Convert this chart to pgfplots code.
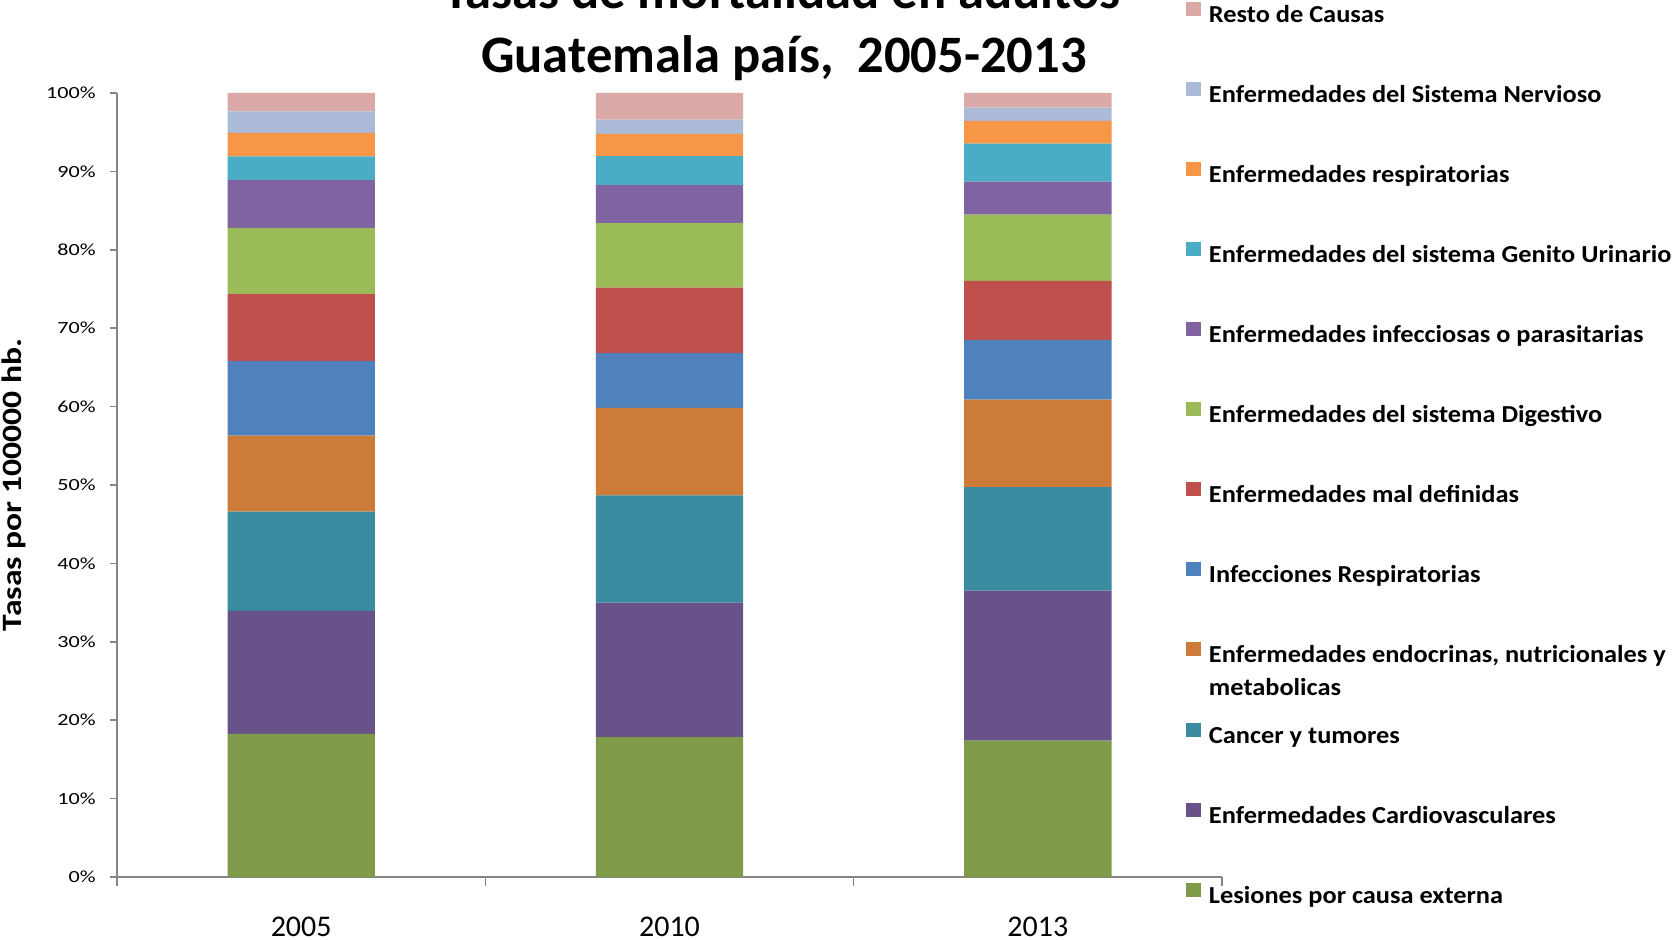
\documentclass[border=0pt]{standalone}
\usepackage{fontspec}
\setmainfont{Carlito}
\newfontfamily\legfont[FakeStretch=1.08]{Carlito}
\newfontfamily\tickfont[FakeStretch=1.3]{Carlito}
\newfontfamily\ylabfont[FakeStretch=1.2]{Carlito}
\usepackage{pgfplots}
\usepackage{pgfplotstable}
\pgfplotsset{compat=1.18}
\definecolor{cLes}{HTML}{7F9A48}
\definecolor{cCar}{HTML}{69518A}
\definecolor{cCan}{HTML}{3B8BA1}
\definecolor{cEnd}{HTML}{CC7B38}
\definecolor{cIre}{HTML}{4F81BD}
\definecolor{cMal}{HTML}{C0504D}
\definecolor{cDig}{HTML}{9BBB59}
\definecolor{cInf}{HTML}{8064A2}
\definecolor{cGen}{HTML}{4BACC6}
\definecolor{cRes}{HTML}{F79646}
\definecolor{cNer}{HTML}{AABAD7}
\definecolor{cRst}{HTML}{DBA9A8}
\definecolor{axgray}{HTML}{868686}
\pgfplotstableread{
x les car can end ire mal dig inf gen res ner rst
0 18.26 15.69 12.65 9.70 9.50 8.56 8.44 6.08 3.05 2.97 2.76 2.34
1 17.83 17.16 13.68 11.16 6.98 8.38 8.21 4.86 3.70 2.81 1.83 3.40
2 17.41 19.11 13.22 11.15 7.62 7.53 8.43 4.21 4.85 2.90 1.70 1.87
}\data
\begin{document}
\begin{tikzpicture}
\useasboundingbox (0,0) rectangle (836.5bp,470bp);
\begin{axis}[
  at={(58.5bp,31.5bp)}, anchor=south west,
  scale only axis, width=552.5bp, height=392bp,
  ybar stacked, bar width=0.4,
  xmin=-0.5, xmax=2.5, ymin=0, ymax=100,
  axis x line=bottom, axis y line=left,
  axis line style={-, draw=axgray, line width=0.8bp},
  xtick={0,1,2}, xticklabels={2005,2010,2013},
  minor xtick={-0.5,0.5,1.5,2.5},
  major x tick style={draw=none},
  minor x tick style={draw=axgray, line width=0.8bp},
  minor tick length=4.5bp,
  ytick={0,10,20,30,40,50,60,70,80,90,100},
  yticklabels={0\%,10\%,20\%,30\%,40\%,50\%,60\%,70\%,80\%,90\%,100\%},
  major y tick style={draw=axgray, line width=0.8bp},
  major tick length=3.5bp,
  tick align=outside,
  xticklabel style={font=\fontsize{15bp}{18bp}\selectfont, anchor=base, inner sep=0pt, text depth=0pt, yshift=-26bp},
  yticklabel style={font=\tickfont\fontsize{8.5bp}{10bp}\selectfont, anchor=east, inner sep=0pt, xshift=-7bp},
  ylabel={Tasas por 100000 hb.},
  ylabel style={font=\ylabfont\bfseries\fontsize{14bp}{16bp}\selectfont, at={(axis description cs:-0.0935,0.5)}, anchor=center},
  clip=false,
  reverse legend,
  legend cell align=left,
  legend image code/.code={\fill[#1] (0bp,0bp) rectangle (7.5bp,7bp);},
  legend style={draw=none, fill=none, at={(axis description cs:0.9674,1.1165)}, anchor=north west,
    inner sep=0pt, outer sep=0pt, row sep=26.8bp,
    font=\legfont\bfseries\fontsize{12.2bp}{16.5bp}\selectfont,
    nodes={inner sep=0pt, text height=9.5bp, text depth=3bp},
    /tikz/every odd column/.append style={column sep=4bp}},
]
\addplot[fill=cLes, draw=none] table[x=x,y=les]{\data};
\addplot[fill=cCar, draw=none] table[x=x,y=car]{\data};
\addplot[fill=cCan, draw=none] table[x=x,y=can]{\data};
\addplot[fill=cEnd, draw=none] table[x=x,y=end]{\data};
\addplot[fill=cIre, draw=none] table[x=x,y=ire]{\data};
\addplot[fill=cMal, draw=none] table[x=x,y=mal]{\data};
\addplot[fill=cDig, draw=none] table[x=x,y=dig]{\data};
\addplot[fill=cInf, draw=none] table[x=x,y=inf]{\data};
\addplot[fill=cGen, draw=none] table[x=x,y=gen]{\data};
\addplot[fill=cRes, draw=none] table[x=x,y=res]{\data};
\addplot[fill=cNer, draw=none] table[x=x,y=ner]{\data};
\addplot[fill=cRst, draw=none] table[x=x,y=rst]{\data};
\legend{Lesiones por causa externa, Enfermedades Cardiovasculares, Cancer y tumores,
  {\smash{\begin{tabular}[t]{@{}l@{}}Enfermedades endocrinas, nutricionales y\\metabolicas\end{tabular}}},
  Infecciones Respiratorias, Enfermedades mal definidas, Enfermedades del sistema Digestivo,
  Enfermedades infecciosas o parasitarias, Enfermedades del sistema Genito Urinario,
  Enfermedades respiratorias, Enfermedades del Sistema Nervioso, Resto de Causas}
\node[anchor=base, font=\bfseries\fontsize{26.3bp}{30bp}\selectfont] at (axis description cs:0.6018,1.1078) {Tasas de mortalidad en adultos};
\node[anchor=base, font=\bfseries\fontsize{26.3bp}{30bp}\selectfont] at (axis description cs:0.6036,1.026) {Guatemala país,~ 2005-2013};
\end{axis}
\end{tikzpicture}
\end{document}
